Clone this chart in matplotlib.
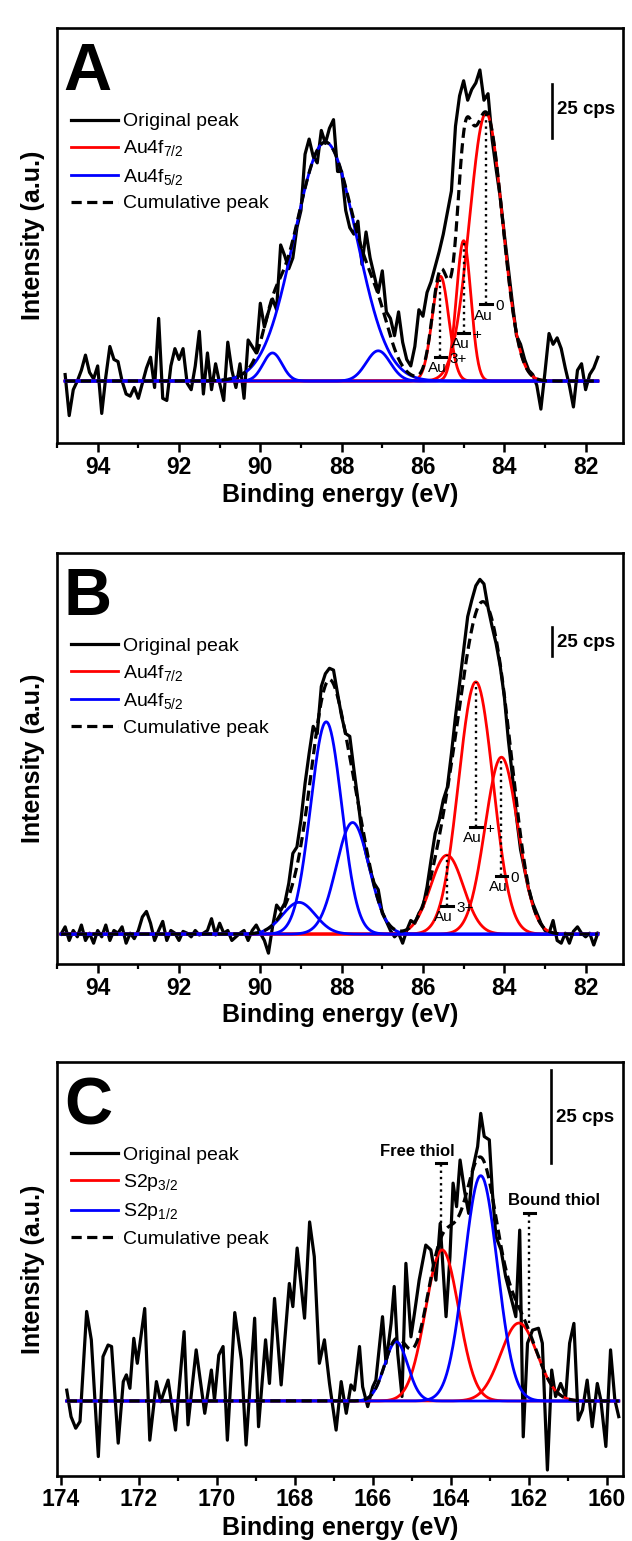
import numpy as np
import matplotlib.pyplot as plt

plt.rcParams['font.family'] = ['Liberation Sans', 'DejaVu Sans']
plt.rcParams['mathtext.default'] = 'regular'

# ---- panel A : Au4f, sample 1 (0.1 eV steps from 94.8 to 81.7) ----
a_start, a_stop = 94.8, 81.7
a_counts = [3, -16, -4, 0, 5, 12, 4, 1, 7, -15,
            2, 16, 10, 9, 0, -6, -7, -3, -8, -1,
            6, 11, -3, 29, -8, -9, 7, 15, 10, 15,
            -1, -4, 7, 23, -6, 13, -4, 8, -1, -9,
            18, 5, -3, 8, -8, 19, 16, 13, 36, 25,
            32, 38, 33, 63, 58, 52, 57, 71, 79, 105,
            112, 104, 101, 116, 110, 117, 121, 97, 97, 79,
            71, 68, 74, 54, 69, 57, 49, 41, 51, 32,
            29, 21, 32, 18, 10, 7, 16, 33, 30, 41,
            46, 53, 60, 68, 78, 88, 118, 132, 139, 130,
            135, 138, 144, 130, 133, 112, 98, 85, 68, 52,
            36, 21, 17, 10, 5, 3, -2, -13, 4, 22,
            17, 20, 15, 6, -2, -12, 5, 8, -4, 3,
            6, 11]
# fitted peaks: (centre eV, height, FWHM)
a_red = [(84.45, 124, 0.95), (85.0, 65, 0.42), (85.57, 48.5, 0.48)]
a_blue = [(88.4, 110.6, 1.8), (89.7, 13, 0.55), (87.1, 14, 0.7)]
a_states = [(84.45, 124, 35.5, '0'), (85.0, 65, 22.1, '+'), (85.57, 48.5, 11, '3+')]

# ---- panel B : Au4f, sample 2 (0.1 eV steps from 94.9 to 81.7) ----
b_start, b_stop = 94.9, 81.7
b_counts = [0, 8, -7, 4, -3, 10, -7, 1, -10, 4,
            -3, 10, -7, 4, 1, 8, -10, 1, -5, 4,
            19, 25, 12, -7, 4, 14, -7, 4, 1, -7,
            3, 1, -3, 4, -1, 1, 4, 17, -1, 12,
            1, 4, -7, -3, 1, 4, -7, 4, 10, 1,
            -7, -21, 8, 32, 26, 34, 56, 89, 96, 126,
            166, 199, 229, 221, 273, 287, 293, 291, 265, 240,
            221, 218, 182, 148, 111, 89, 71, 56, 49, 23,
            14, 4, -3, 1, -10, 4, 15, 12, 23, 30,
            52, 82, 111, 126, 148, 162, 199, 240, 276, 313,
            350, 368, 384, 391, 386, 360, 339, 320, 295, 262,
            214, 174, 129, 93, 71, 49, 34, 23, 12, 4,
            1, 15, -7, -10, 1, -10, 3, 8, 1, -3,
            1, -12, 1]
b_red = [(84.7, 278, 1.0), (84.07, 195, 0.95), (85.41, 87, 0.95)]
b_blue = [(88.38, 234, 0.9), (87.73, 123, 0.95), (89.05, 35, 0.95)]
b_states = [(84.7, 278, 118, '+'), (84.07, 195, 64, '0'), (85.41, 87, 31.2, '3+')]

# ---- panel C : S2p ----
c_energy = [173.85, 173.74, 173.62, 173.51, 173.34, 173.22, 173.04, 172.92, 172.79, 172.70,
            172.53, 172.40, 172.32, 172.23, 172.13, 172.04, 171.85, 171.72, 171.55, 171.44,
            171.25, 171.06, 170.84, 170.74, 170.53, 170.31, 170.14, 170.06, 169.95, 169.84,
            169.73, 169.54, 169.37, 169.25, 169.03, 168.93, 168.75, 168.65, 168.52, 168.35,
            168.14, 168.05, 167.94, 167.75, 167.62, 167.50, 167.37, 167.24, 167.11, 166.94,
            166.81, 166.68, 166.56, 166.47, 166.34, 166.26, 166.13, 166.00, 165.92, 165.75,
            165.66, 165.53, 165.45, 165.36, 165.25, 165.15, 165.02, 164.93, 164.81, 164.64,
            164.51, 164.38, 164.27, 164.12, 164.02, 163.94, 163.85, 163.76, 163.65, 163.54,
            163.44, 163.31, 163.23, 163.14, 163.01, 162.93, 162.84, 162.71, 162.59, 162.46,
            162.33, 162.23, 162.14, 162.03, 161.90, 161.75, 161.65, 161.52, 161.41, 161.31,
            161.18, 161.05, 160.95, 160.84, 160.73, 160.62, 160.50, 160.37, 160.24, 160.15,
            160.02, 159.90, 159.79, 159.69]
c_counts = [2.9, -4.2, -7.3, -5.5, 24, 16.4, -14.9, 11.9, 15, 14.6,
            -11.3, 5.2, 7, 3.4, 16.8, 10.1, 24.8, -10.5, 5.2, -0.2,
            5.6, -7.8, 18.6, -6.4, 13.7, -3.3, 8.3, 0.3, 12.3, 14.6,
            -10.5, 23.7, 11, -11.8, 22.2, -6.9, 16.4, 4.7, 27.5, 4.3,
            31.5, 25.3, 41, 22.2, 48, 38.7, 10.1, 16.4, 4.7, -7.8,
            5.2, -3.3, 4.3, 2.9, 14.6, 3.8, -1.5, 3.8, 5.6, 22.6,
            10.1, 20.8, 30.7, 12.8, 1.2, 36.9, 17.2, 23.5, 32.4, 41.8,
            40.5, 32.4, 47.6, 22.6, 38.7, 58.4, 52.1, 64.6, 56.6, 50.3,
            61.9, 68.2, 77.1, 70.9, 70, 55.7, 44.1, 40.5, 33.3, 28,
            22.6, 45.8, -9.6, 15.5, 19, 19.5, 15.5, -18.5, 8.3, 1.2,
            4.7, 1.2, 15.5, 20.8, -5.1, -2.4, 5.6, -6.9, 4.7, 0.3,
            -12.2, 13.7, 0.3, -4.2]
c_red = [(164.22, 40.5, 1.0), (162.25, 20.9, 1.1)]
c_blue = [(163.23, 60.4, 1.0), (165.40, 15.9, 0.7)]


def gauss(x, c, h, w):
    return h * np.exp(-4 * np.log(2) * (x - c) ** 2 / w ** 2)


def draw_panel(ax, x, y, reds, blues, red_name, blue_name):
    xf = np.linspace(x[0], x[-1], 800)
    ax.plot(x, y, color='black', lw=2.3, label='Original peak', zorder=2)
    total = np.zeros_like(xf)
    for i, (c, h, w) in enumerate(reds):
        g = gauss(xf, c, h, w)
        total += g
        ax.plot(xf, g, color='#ff0000', lw=2.0, zorder=3, label=red_name if i == 0 else None)
    for i, (c, h, w) in enumerate(blues):
        g = gauss(xf, c, h, w)
        total += g
        ax.plot(xf, g, color='#0000ff', lw=2.0, zorder=4, label=blue_name if i == 0 else None)
    ax.plot(xf, total, color='black', lw=2.3, ls=(0, (3.2, 1.7)), zorder=5, label='Cumulative peak')


def style_axes(ax, xlim, ylim, letter, bar):
    ax.set_xlim(*xlim)
    ax.set_ylim(*ylim)
    ax.set_yticks([])
    lo = int(np.ceil(min(xlim)))
    hi = int(np.floor(max(xlim)))
    ax.set_xticks([t for t in range(lo, hi + 1) if t % 2 == 0])
    ax.set_xticks([t for t in range(lo, hi + 1) if t % 2 == 1], minor=True)
    ax.tick_params(axis='x', which='major', direction='out', length=6.5, width=1.8, pad=2.5,
                   labelsize=16.5)
    ax.tick_params(axis='x', which='minor', direction='out', length=3.5, width=1.6)
    for lab in ax.get_xticklabels():
        lab.set_fontweight('bold')
    for s in ax.spines.values():
        s.set_linewidth(1.9)
    ax.set_xlabel('Binding energy (eV)', fontsize=18, fontweight='bold')
    ax.xaxis.label.set_va('center')
    ax.xaxis.set_label_coords(0.5, -0.125)
    ax.set_ylabel('Intensity (a.u.)', fontsize=18, fontweight='bold')
    ax.yaxis.label.set_va('center')
    ax.yaxis.set_label_coords(-0.042, 0.5)
    ax.text(0.012, 0.85, letter, transform=ax.transAxes, fontsize=48, fontweight='bold',
            ha='left', va='baseline')
    bx, y0, y1, tx, ty = bar
    ax.plot([bx, bx], [y0, y1], color='black', lw=1.9, zorder=6)
    ax.text(tx, ty, '25 cps', fontsize=13.5, fontweight='bold', ha='left', va='center')
    ax.legend(loc='upper left', bbox_to_anchor=(0.025, 0.796), frameon=False, fontsize=14,
              borderpad=0, borderaxespad=0, handlelength=2.4, handletextpad=0.25,
              labelspacing=0.42)


def mark_state(ax, x, top, bar, sup):
    ax.plot([x, x], [bar, top], color='black', ls=':', lw=1.7, zorder=6)
    ax.plot([x - 0.14, x + 0.14], [bar, bar], color='black', lw=2.2, zorder=6)
    ax.annotate('Au', (x, bar), xytext=(4.5, -3), textcoords='offset points',
                ha='right', va='top', fontsize=11, zorder=7)
    ax.annotate(sup, (x, bar), xytext=(6.5, -1.5), textcoords='offset points',
                ha='left', va='center', fontsize=11, zorder=7)


fig = plt.figure(figsize=(6.32, 15.41), dpi=100)
axA = fig.add_axes([0.0902, 0.7125, 0.8956, 0.2693])
axB = fig.add_axes([0.0902, 0.3744, 0.8956, 0.2667])
axC = fig.add_axes([0.0902, 0.0422, 0.8956, 0.2687])

a_x = np.linspace(a_start, a_stop, len(a_counts))
draw_panel(axA, a_x, np.array(a_counts), a_red, a_blue, 'Au4f$_{7/2}$', 'Au4f$_{5/2}$')
style_axes(axA, (95.0, 81.08), (-28.7, 163.4), 'A', (82.82, 112.4, 137.4, 82.71, 125.5))
for s in a_states:
    mark_state(axA, *s)

b_x = np.linspace(b_start, b_stop, len(b_counts))
draw_panel(axB, b_x, np.array(b_counts), b_red, b_blue, 'Au4f$_{7/2}$', 'Au4f$_{5/2}$')
style_axes(axB, (95.0, 81.08), (-33, 420), 'B', (82.82, 306.5, 338, 82.71, 321))
for s in b_states:
    mark_state(axB, *s)

draw_panel(axC, np.array(c_energy), np.array(c_counts), c_red, c_blue, 'S2p$_{3/2}$', 'S2p$_{1/2}$')
style_axes(axC, (174.1, 159.58), (-20.1, 90.9), 'C', (161.43, 63.8, 88.7, 161.31, 76.1))
# thiol markers
axC.plot([164.25, 164.25], [47.7, 63.8], color='black', ls=':', lw=1.7, zorder=6)
axC.plot([164.11, 164.39], [63.8, 63.8], color='black', lw=2.2, zorder=6)
axC.text(164.85, 66.8, 'Free thiol', fontsize=12, fontweight='bold', ha='center', va='center')
axC.plot([161.99, 161.99], [20.9, 50.4], color='black', ls=':', lw=1.7, zorder=6)
axC.plot([161.85, 162.13], [50.4, 50.4], color='black', lw=2.2, zorder=6)
axC.text(161.36, 53.7, 'Bound thiol', fontsize=12, fontweight='bold', ha='center', va='center')

fig.savefig('out.png', dpi=100)
